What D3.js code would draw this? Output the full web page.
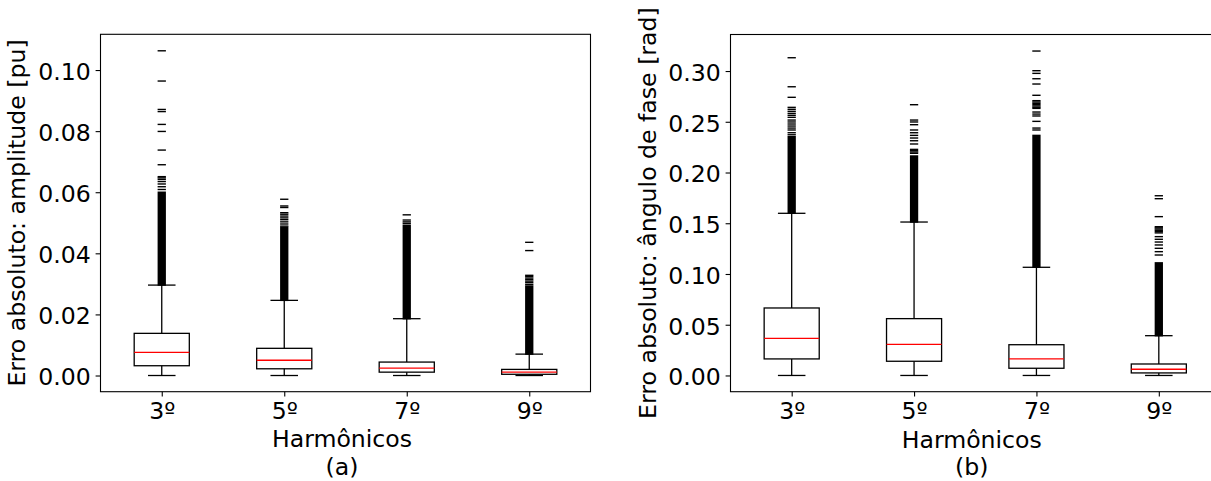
<!DOCTYPE html>
<html>
<head>
<meta charset="utf-8">
<script src="https://cdn.jsdelivr.net/npm/d3@7"></script>
<style>
  body { margin: 0; background: #fff; }
  text { font-family: "DejaVu Sans", sans-serif; }
</style>
</head>
<body>
<script>
var categories = ["3º", "5º", "7º", "9º"];

// (a) erro de amplitude [pu]
var ampWhiskerLow = [0, 0, 0, 0];
var ampQ1 = [0.0032, 0.0022, 0.0011, 0.0004];
var ampMedian = [0.0076, 0.0050, 0.0024, 0.0011];
var ampQ3 = [0.0138, 0.0089, 0.0044, 0.0020];
var ampWhiskerHigh = [0.0296, 0.0246, 0.0186, 0.0070];
// outliers too dense to tell apart: solid from the whisker up to this value
var ampDenseTop = [0.0600, 0.0485, 0.0492, 0.0293];
var ampOutliers = [
  [0.1063, 0.0964, 0.0871, 0.0864, 0.0822, 0.0799, 0.0738, 0.0690, 0.0651, 0.0647, 0.0642, 0.0635, 0.0627, 0.0618, 0.0609],
  [0.0577, 0.0555, 0.0550, 0.0533, 0.0528, 0.0522, 0.0516, 0.0510, 0.0503, 0.0496, 0.0489],
  [0.0526, 0.0509, 0.0503, 0.0498],
  [0.0436, 0.0409, 0.0328, 0.0324, 0.0319, 0.0314, 0.0309, 0.0304, 0.0298]
];
var ampTicks = [0, 0.02, 0.04, 0.06, 0.08, 0.10];

// (b) erro de angulo de fase [rad]
var phWhiskerLow = [0, 0, 0, 0];
var phQ1 = [0.0163, 0.0140, 0.0071, 0.0025];
var phMedian = [0.0366, 0.0307, 0.0163, 0.0061];
var phQ3 = [0.0665, 0.0560, 0.0303, 0.0113];
var phWhiskerHigh = [0.1598, 0.1512, 0.1066, 0.0392];
var phDenseTop = [0.2353, 0.2163, 0.2366, 0.1110];
var phOutliers = [
  [0.3131, 0.2845, 0.2741, 0.2642, 0.2623, 0.2603, 0.2583, 0.2564, 0.2544, 0.2517, 0.2498, 0.2478, 0.2458, 0.2438, 0.2419, 0.2392, 0.2372],
  [0.2668, 0.2517, 0.2498, 0.2471, 0.2419, 0.2392, 0.2366, 0.2340, 0.2313, 0.2281, 0.2228, 0.2215, 0.2202, 0.2189],
  [0.3197, 0.3003, 0.2977, 0.2924, 0.2872, 0.2761, 0.2708, 0.2695, 0.2682, 0.2669, 0.2656, 0.2643, 0.2632, 0.2596, 0.2576, 0.2557, 0.2504, 0.2438, 0.2419],
  [0.1771, 0.1742, 0.1565, 0.1466, 0.1455, 0.1443, 0.1430, 0.1418, 0.1405, 0.1368, 0.1342, 0.1315, 0.1286, 0.1253, 0.1220, 0.1187]
];
var phTicks = [0, 0.05, 0.10, 0.15, 0.20, 0.25, 0.30];

var W = 1211, H = 481;
var FS = "23.6px";
var svg = d3.select("body").append("svg")
  .attr("width", W)
  .attr("height", H);

function makeBoxes(lo, q1, med, q3, hi, denseTop, outliers) {
  return categories.map(function(c, i) {
    return { pos: i + 1, lo: lo[i], q1: q1[i], med: med[i], q3: q3[i], hi: hi[i],
             denseTop: denseTop[i], outliers: outliers[i] };
  });
}

function drawPanel(p) {
  var g = svg.append("g").attr("transform", "translate(" + p.left + "," + p.top + ")");
  var w = p.width, h = p.height;

  var x = d3.scaleLinear().domain([0.5, 4.5]).range([0, w]);
  var y = d3.scaleLinear().domain(p.yDomain).range([h, 0]);
  var boxW = x(1.45) - x(1);
  var capW = boxW / 2;
  var mW = 8.3;

  var b = g.selectAll("g.box")
    .data(p.boxes)
    .enter()
    .append("g")
    .classed("box", true);

  // whiskers
  b.append("line")
    .attr("x1", function(d) { return x(d.pos); })
    .attr("x2", function(d) { return x(d.pos); })
    .attr("y1", function(d) { return y(d.q3); })
    .attr("y2", function(d) { return y(d.hi); })
    .attr("stroke", "#000").attr("stroke-width", 1.3);
  b.append("line")
    .attr("x1", function(d) { return x(d.pos); })
    .attr("x2", function(d) { return x(d.pos); })
    .attr("y1", function(d) { return y(d.q1); })
    .attr("y2", function(d) { return y(d.lo); })
    .attr("stroke", "#000").attr("stroke-width", 1.3);

  // caps
  ["lo", "hi"].forEach(function(k) {
    b.append("line")
      .attr("x1", function(d) { return x(d.pos) - capW / 2; })
      .attr("x2", function(d) { return x(d.pos) + capW / 2; })
      .attr("y1", function(d) { return y(d[k]); })
      .attr("y2", function(d) { return y(d[k]); })
      .attr("stroke", "#000").attr("stroke-width", 1.3);
  });

  // box
  b.append("rect")
    .attr("x", function(d) { return x(d.pos) - boxW / 2; })
    .attr("y", function(d) { return y(d.q3); })
    .attr("width", boxW)
    .attr("height", function(d) { return y(d.q1) - y(d.q3); })
    .attr("fill", "none")
    .attr("stroke", "#000").attr("stroke-width", 1.3);

  // median
  b.append("line")
    .attr("x1", function(d) { return x(d.pos) - boxW / 2; })
    .attr("x2", function(d) { return x(d.pos) + boxW / 2; })
    .attr("y1", function(d) { return y(d.med); })
    .attr("y2", function(d) { return y(d.med); })
    .attr("stroke", "#ff0000").attr("stroke-width", 1.3);

  // dense outlier run
  b.append("rect")
    .attr("x", function(d) { return x(d.pos) - mW / 2; })
    .attr("y", function(d) { return y(d.denseTop) - 0.7; })
    .attr("width", mW)
    .attr("height", function(d) { return y(d.hi) - y(d.denseTop) + 1.4; })
    .attr("fill", "#000");

  // single outliers ("_" markers)
  b.selectAll("line.flier")
    .data(function(d) { return d.outliers.map(function(v) { return { pos: d.pos, v: v }; }); })
    .enter()
    .append("line")
    .classed("flier", true)
    .attr("x1", function(d) { return x(d.pos) - mW / 2; })
    .attr("x2", function(d) { return x(d.pos) + mW / 2; })
    .attr("y1", function(d) { return y(d.v); })
    .attr("y2", function(d) { return y(d.v); })
    .attr("stroke", "#000").attr("stroke-width", 1.4);

  // axes
  var yAxis = d3.axisLeft(y).tickValues(p.ticks).tickFormat(d3.format(".2f"))
    .tickSize(4.9).tickPadding(4.9);
  var ya = g.append("g").call(yAxis);
  var xAxis = d3.axisBottom(x).tickValues([1, 2, 3, 4])
    .tickFormat(function(d) { return categories[d - 1]; })
    .tickSize(4.9).tickPadding(4.9);
  var xa = g.append("g").attr("transform", "translate(0," + h + ")").call(xAxis);

  [ya, xa].forEach(function(a) {
    a.select(".domain").remove();
    a.selectAll(".tick line").attr("stroke", "#000").attr("stroke-width", 1.1);
    a.selectAll("text").attr("font-size", FS).attr("fill", "#000")
      .style("font-family", "DejaVu Sans");
  });
  ya.selectAll("text").attr("dy", "0.4em");
  xa.selectAll("text").attr("dy", null).attr("y", 27.8);

  // frame
  g.append("rect")
    .attr("x", 0).attr("y", 0)
    .attr("width", w).attr("height", h)
    .attr("fill", "none")
    .attr("stroke", "#000").attr("stroke-width", 1.1);

  // labels
  g.append("text")
    .attr("transform", "translate(" + p.ylabelX + "," + (h / 2) + ") rotate(-90)")
    .attr("text-anchor", "middle")
    .attr("font-size", FS)
    .text(p.ylabel);
  var xl = g.append("text")
    .attr("text-anchor", "middle")
    .attr("font-size", FS);
  xl.append("tspan").attr("x", w / 2 - 3.5).attr("y", h + 55.8).text("Harmônicos");
  xl.append("tspan").attr("x", w / 2 - 3.5).attr("y", h + 83.4).text(p.sub);
}

drawPanel({
  left: 100.5, top: 34.3, width: 490, height: 357.4,
  yDomain: [-0.0053, 0.1117], ticks: ampTicks,
  boxes: makeBoxes(ampWhiskerLow, ampQ1, ampMedian, ampQ3, ampWhiskerHigh, ampDenseTop, ampOutliers),
  ylabel: "Erro absoluto: amplitude [pu]", ylabelX: -76, sub: "(a)"
});

drawPanel({
  left: 730.5, top: 34.5, width: 489.5, height: 357.2,
  yDomain: [-0.016, 0.336], ticks: phTicks,
  boxes: makeBoxes(phWhiskerLow, phQ1, phMedian, phQ3, phWhiskerHigh, phDenseTop, phOutliers),
  ylabel: "Erro absoluto: ângulo de fase [rad]", ylabelX: -75, sub: "(b)"
});
</script>
</body>
</html>
